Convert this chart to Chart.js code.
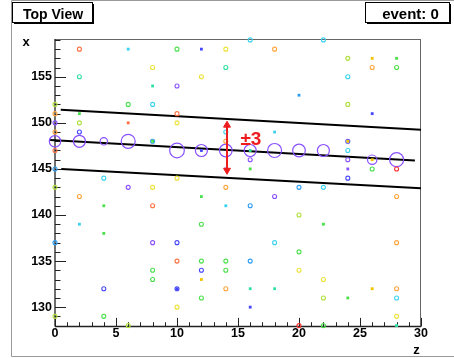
<!DOCTYPE html>
<html><head><meta charset="utf-8">
<script src="https://cdn.jsdelivr.net/npm/chart.js@4/dist/chart.umd.min.js"></script>
<style>html,body{margin:0;padding:0;background:#fff}#c{display:block}</style>
</head><body>
<canvas id="c" width="454" height="358"></canvas>
<script>
// ---- data (z = horizontal, x = vertical) ----
const zTicks = [0, 5, 10, 15, 20, 25, 30];
const xTicks = [130, 135, 140, 145, 150, 155];

// open-circle hits
const openZ = [2,2,0,6,0,0,2,0,2,0,0,4,0,6,2,0,4,0,4,6, 16,10,14,18,8,14,10,12,8,10, 10,14,14,16,10,8,14,18,20,8, 16,20,12,8,10,18,20,10,12,14, 16,8,12,14,20,8,10,14,12,10, 20,22,24,26,28,24,24,24,24,24, 24,26,28,22,28,28,22,28,22,28, 28,22,8];
const openX = [158,155,152,152,151,150,150,149,149,147,145,144,143,143,142,137,132,129,129,128, 159,158,158,158,156,156,154,155,152,151, 150,149,148,146,144,143,143,142,143,141, 141,140,139,137,137,137,136,135,135,135, 135,134,134,134,134,133,132,132,131,130, 128,159,157,156,156,155,152,148,147,146, 144,145,145,143,142,137,133,132,131,131, 129,128,148];
const openT = [10,4,6,5,9,0,6,9,1,10,2,3,6,0,9,2,1,6,5,6, 3,5,7,9,7,4,0,7,3,10, 7,3,9,0,7,7,9,0,2,10, 2,6,5,0,1,3,5,10,5,5, 2,5,1,5,7,5,1,9,5,7, 11,3,6,9,5,3,6,1,3,0, 1,5,11,3,9,9,7,9,6,3, 7,5,2];

// filled-dot hits
const dotZ = [6,2,6,4,2,4,12,8,18,12,16,14,16,12,20,14,12,10,16,18,16,26,28,26,24,24,22,26,24,28,8,26];
const dotX = [158,151,150,141,139,138,158,154,149,147,147,145,145,142,153,141,133,132,132,132,130,157,157,151,148,145,139,132,131,128,148,146];
const dotT = [3,5,10,5,3,5,1,4,3,1,4,0,5,5,2,3,8,1,4,4,1,8,5,1,8,0,5,8,5,4,5,8];

// track hits (charge)
const trackZ = [0,2,4,6,10,12,14,16,18,20,22,26,28];
const trackX = [148,148,148,148,147,147,147,147,147,147,147,146,146];
const trackQ = [57,60,37,70,73,60,63,60,70,63,60,47,70];

// fitted track and road (z, x end points)
const centerZ = [-0.4, 29.5], centerX = [148.13, 145.92];
const upperZ = [0.47, 30], upperX = [151.42, 149.25];
const lowerZ = [0.52, 30], lowerX = [144.98, 142.9];
const arrowZ = [14.1, 14.1], arrowX = [149.75, 144.85];
const roadLabel = '±3';

// ---- styling ----
const palette = ['#8a50ff','#4646ff','#2a9df4','#3cd2f0','#30e0a0','#4be04b','#b0e03c','#eee23a','#f5c400','#ffa53c','#ff7040','#ff3030'];
const FONT = '"Liberation Sans", Arial, Helvetica, sans-serif';
const pts = (zs, xs) => zs.map((z, i) => ({x: z, y: xs[i]}));

const rootDecor = {
  id: 'rootDecor',
  beforeDatasetsDraw(chart) {
    const {ctx, chartArea: a, scales: {x, y}} = chart;
    const ln = (x1, y1, x2, y2) => { ctx.beginPath(); ctx.moveTo(x1, y1); ctx.lineTo(x2, y2); ctx.stroke(); };
    ctx.save();
    ctx.strokeStyle = '#666'; ctx.lineWidth = 1;
    ln(a.left, a.top + 0.5, a.right - 0.5, a.top + 0.5);
    ln(a.right - 0.5, a.top, a.right - 0.5, a.bottom);
    ctx.strokeStyle = '#222'; ctx.lineWidth = 1.3;
    ln(a.left, a.top, a.left, a.bottom);
    ln(a.left, a.bottom, a.right, a.bottom);
    ctx.lineWidth = 1;
    for (let v = Math.ceil(y.min); v <= y.max; v++) {
      const p = Math.round(y.getPixelForValue(v)) + 0.5;
      ln(a.left, p, a.left + (v % 5 === 0 ? 11 : 5.5), p);
    }
    for (let v = Math.ceil(x.min); v <= x.max; v++) {
      const p = Math.round(x.getPixelForValue(v)) + 0.5;
      ln(p, a.bottom, p, a.bottom - (v % 5 === 0 ? 8.6 : 4.3));
    }
    ctx.restore();
  },
  afterDraw(chart) {
    const {ctx, scales: {x, y}} = chart;
    ctx.save();
    // pad border
    ctx.strokeStyle = '#999'; ctx.lineWidth = 1;
    ctx.beginPath(); ctx.moveTo(454, 0.5); ctx.lineTo(11.5, 0.5); ctx.lineTo(11.5, 356.5); ctx.lineTo(454, 356.5); ctx.stroke();
    // title boxes
    const box = (l, t, r, b, text, size, cx) => {
      ctx.fillStyle = '#fff'; ctx.fillRect(l, t, r - l, b - t);
      ctx.fillStyle = '#000';
      ctx.fillRect(l + 2, b, r - l, 2);
      ctx.fillRect(r, t + 2, 2, b - t);
      ctx.strokeStyle = '#000'; ctx.lineWidth = 1;
      ctx.strokeRect(l + 0.5, t + 0.5, r - l, b - t);
      ctx.font = 'bold ' + size + 'px ' + FONT;
      ctx.textAlign = 'center'; ctx.textBaseline = 'alphabetic';
      ctx.fillText(text, cx, 19);
    };
    box(12, 2, 92, 22, 'Top View', 14, 53);
    box(365, 2, 449, 22, 'event: 0', 15, 410.5);
    // axis titles
    ctx.fillStyle = '#000';
    ctx.font = 'bold 13px ' + FONT;
    ctx.textAlign = 'center'; ctx.textBaseline = 'alphabetic';
    ctx.fillText('x', 26, 45.5);
    ctx.fillText('z', 416.5, 353.5);
    // road label
    ctx.fillStyle = '#ee1c1c';
    ctx.font = 'bold 19px ' + FONT;
    ctx.textAlign = 'left';
    ctx.fillText(roadLabel, x.getPixelForValue(15.2), y.getPixelForValue(147.62));
    ctx.restore();
  }
};

new Chart(document.getElementById('c'), {
  type: 'scatter',
  data: {
    datasets: [
      { // arrow heads
        data: pts(arrowZ, arrowX), showLine: true, borderColor: '#ee1c1c', borderWidth: 2,
        pointStyle: 'triangle', rotation: [0, 180], pointRadius: 4,
        pointBackgroundColor: '#ee1c1c', pointBorderColor: '#ee1c1c', pointBorderWidth: 1, clip: false
      },
      { // filled dots
        data: pts(dotZ, dotX), pointStyle: 'rect', pointRadius: 2, pointBorderWidth: 0,
        pointBackgroundColor: c => palette[dotT[c.dataIndex]], clip: false
      },
      { // open circles
        data: pts(openZ, openX), pointStyle: 'circle', pointRadius: 2, pointBorderWidth: 1.1,
        pointBackgroundColor: 'rgba(0,0,0,0)', pointBorderColor: c => palette[openT[c.dataIndex]], clip: false
      },
      { // track hits
        data: pts(trackZ, trackX), pointStyle: 'circle', pointRadius: c => trackQ[c.dataIndex] / 10,
        pointBorderWidth: 1.2, pointBackgroundColor: 'rgba(0,0,0,0)', pointBorderColor: '#8a50ff', clip: false
      },
      { data: pts(centerZ, centerX), showLine: true, borderColor: '#000', borderWidth: 2, pointRadius: 0, clip: false },
      { data: pts(upperZ, upperX), showLine: true, borderColor: '#000', borderWidth: 2, pointRadius: 0, clip: false },
      { data: pts(lowerZ, lowerX), showLine: true, borderColor: '#000', borderWidth: 2, pointRadius: 0, clip: false }
    ]
  },
  options: {
    responsive: false, devicePixelRatio: 1, animation: false, events: [],
    layout: { padding: { left: 0, top: 39, right: 33, bottom: 0 } },
    plugins: { legend: { display: false }, tooltip: { enabled: false } },
    scales: {
      x: {
        type: 'linear', position: 'bottom', min: 0, max: 30,
        grid: { display: false, drawTicks: false }, border: { display: false },
        ticks: { color: '#000', font: { family: FONT, size: 12.5, weight: 'bold' }, padding: 0, maxRotation: 0, autoSkip: false },
        afterBuildTicks: s => { s.ticks = zTicks.map(v => ({ value: v })); },
        afterFit: s => { s.height = 31.5; }
      },
      y: {
        type: 'linear', position: 'left', min: 127.9, max: 159.1,
        grid: { display: false, drawTicks: false }, border: { display: false },
        ticks: { color: '#000', font: { family: FONT, size: 12.5, weight: 'bold' }, padding: 3, autoSkip: false },
        afterBuildTicks: s => { s.ticks = xTicks.map(v => ({ value: v })); },
        afterFit: s => { s.width = 55; }
      }
    }
  },
  plugins: [rootDecor]
});
</script>
</body></html>
